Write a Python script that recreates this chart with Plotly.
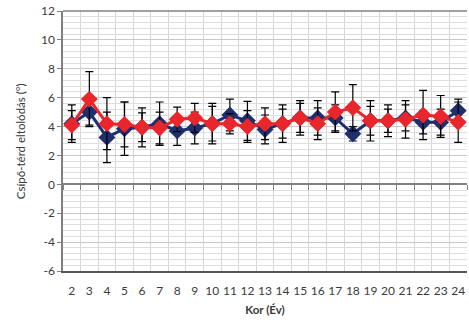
import plotly.graph_objects as go

ages = list(range(2, 25))
blue_mean = [4.2, 5.0, 3.25, 3.85, 3.95, 4.2, 3.7, 3.9, 4.2, 4.8, 4.4, 3.8, 4.2, 4.6, 4.6, 4.6, 3.5, 4.4, 4.4, 4.6, 4.3, 4.3, 5.1]
blue_err = [1.3, 0.9, 1.75, 1.85, 1.35, 1.5, 1.0, 1.1, 1.4, 1.1, 1.35, 1.0, 1.0, 1.0, 1.2, 0.9, 0.5, 1.0, 0.8, 0.9, 0.8, 0.9, 0.8]
red_mean = [4.1, 5.9, 4.2, 4.15, 3.95, 3.9, 4.5, 4.6, 4.2, 4.2, 4.0, 4.2, 4.2, 4.6, 4.2, 5.0, 5.3, 4.4, 4.4, 4.5, 4.8, 4.7, 4.3]
red_err = [1.0, 1.9, 1.8, 1.55, 1.0, 1.1, 0.85, 1.0, 1.2, 0.7, 1.1, 1.1, 1.3, 1.2, 1.1, 1.4, 1.6, 1.4, 1.1, 1.3, 1.7, 1.45, 1.4]
y_ticks = [-6, -4, -2, 0, 2, 4, 6, 8, 10, 12]

BLUE = "#1F2F6E"
RED = "#E8262B"
FONT = "Lato"
TXT = "#3A3A3A"

fig = go.Figure()
fig.add_trace(go.Scatter(
    x=ages, y=blue_mean, mode="lines+markers",
    line=dict(color=BLUE, width=3),
    marker=dict(symbol="diamond", size=13, color=BLUE),
    error_y=dict(type="data", array=blue_err, color="black", thickness=1.2, width=4),
    showlegend=False,
))
fig.add_trace(go.Scatter(
    x=ages, y=red_mean, mode="lines+markers",
    line=dict(color=RED, width=3),
    marker=dict(symbol="diamond", size=13, color=RED),
    error_y=dict(type="data", array=red_err, color="black", thickness=1.2, width=4),
    showlegend=False,
))
# Invisible trace to activate the secondary x axis at y=0
fig.add_trace(go.Scatter(x=[ages[0]], y=[0], xaxis="x2", mode="markers",
                         marker=dict(opacity=0), showlegend=False, hoverinfo="skip"))

fig.update_layout(
    width=469, height=323,
    margin=dict(l=63, r=2, t=11, b=52, autoexpand=False),
    paper_bgcolor="white", plot_bgcolor="white",
    font=dict(family=FONT, size=12, color=TXT),
    xaxis=dict(
        range=[1.5, 24.5], tickmode="array", tickvals=ages,
        ticktext=[str(a) for a in ages], automargin=False,
        showgrid=False, ticks="", ticklabelstandoff=8,
        showline=True, linecolor="#555555", linewidth=1.5,
        zeroline=False,
        minor=dict(tick0=1.5, dtick=1, showgrid=True, gridcolor="#D6D6D6", gridwidth=1, ticks=""),
        title=dict(text="<b>Kor (Év)</b>", font=dict(family=FONT, size=11.5, color=TXT), standoff=9),
        fixedrange=True,
    ),
    xaxis2=dict(
        overlaying="x", anchor="free", position=1/3, automargin=False,
        range=[1.5, 24.5], tick0=1.5, dtick=1, tickmode="linear",
        ticks="outside", ticklen=5, tickcolor="#808080", tickwidth=1,
        showticklabels=False, showgrid=False, showline=True,
        linecolor="#808080", linewidth=1.5, zeroline=False,
    ),
    yaxis=dict(
        range=[-6, 12], tickmode="array", tickvals=y_ticks,
        ticktext=[str(v) for v in y_ticks], automargin=False,
        showgrid=True, gridcolor="#C8C8C8", gridwidth=1,
        minor=dict(dtick=0.4, tick0=0, showgrid=True, gridcolor="#DEDEDE", gridwidth=1),
        ticks="outside", ticklen=4, tickcolor="#808080",
        showline=True, linecolor="#808080", linewidth=1.5,
        zeroline=False,
        fixedrange=True,
    ),
    annotations=[dict(
        text="Csípő-térd eltolódás (°)", textangle=-90, xref="paper", yref="paper",
        x=-0.106, y=0.5, xanchor="center", yanchor="middle", showarrow=False,
        font=dict(family=FONT, size=11.5, color=TXT),
    )],
)
fig.add_shape(type="line", xref="paper", yref="paper", x0=0, x1=1, y0=1, y1=1,
              line=dict(color="#808080", width=1.5))

fig.write_html("out.html", config={"displayModeBar": False},
               post_script="document.body.style.margin='0';")
